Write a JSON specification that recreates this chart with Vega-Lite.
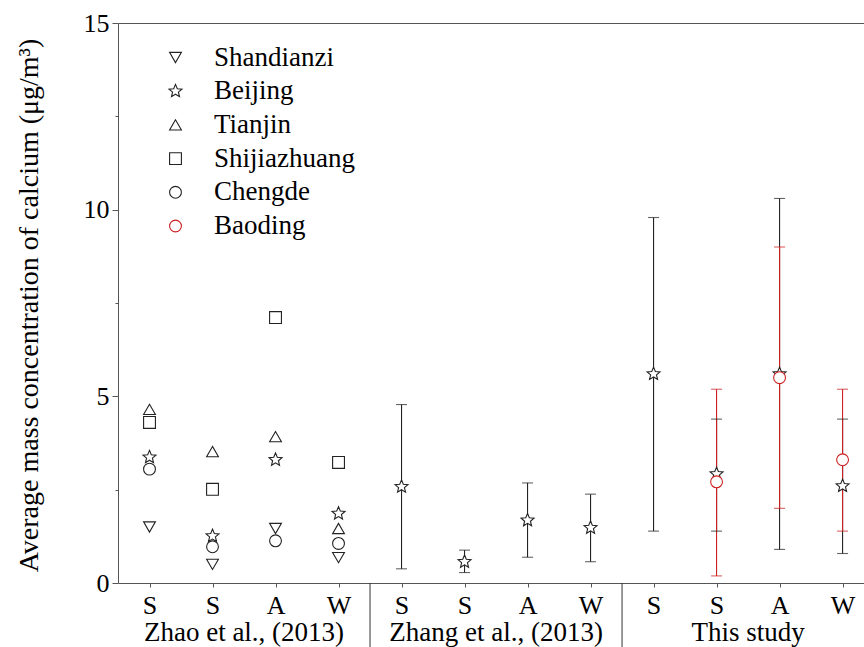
{
  "$schema": "https://vega.github.io/schema/vega-lite/v6.json",
  "width": 746,
  "height": 560,
  "autosize": {"type": "none"},
  "padding": {"left": 118, "top": 23, "right": 0, "bottom": 64},
  "background": "white",
  "config": {"view": {"stroke": null}, "font": "Liberation Serif"},
  "datasets": {
    "points": [
      {"pos": 1, "site": "Shandianzi", "value": 1.5},
      {"pos": 1, "site": "Beijing", "value": 3.37},
      {"pos": 1, "site": "Tianjin", "value": 4.65},
      {"pos": 1, "site": "Shijiazhuang", "value": 4.3},
      {"pos": 1, "site": "Chengde", "value": 3.05},
      {"pos": 2, "site": "Shandianzi", "value": 0.5},
      {"pos": 2, "site": "Beijing", "value": 1.26},
      {"pos": 2, "site": "Tianjin", "value": 3.52},
      {"pos": 2, "site": "Shijiazhuang", "value": 2.51},
      {"pos": 2, "site": "Chengde", "value": 0.97},
      {"pos": 3, "site": "Shandianzi", "value": 1.46},
      {"pos": 3, "site": "Beijing", "value": 3.3},
      {"pos": 3, "site": "Tianjin", "value": 3.92},
      {"pos": 3, "site": "Shijiazhuang", "value": 7.11},
      {"pos": 3, "site": "Chengde", "value": 1.13},
      {"pos": 4, "site": "Shandianzi", "value": 0.68},
      {"pos": 4, "site": "Beijing", "value": 1.86},
      {"pos": 4, "site": "Tianjin", "value": 1.46},
      {"pos": 4, "site": "Shijiazhuang", "value": 3.23},
      {"pos": 4, "site": "Chengde", "value": 1.06},
      {"pos": 5, "site": "Beijing", "value": 2.58},
      {"pos": 6, "site": "Beijing", "value": 0.57},
      {"pos": 7, "site": "Beijing", "value": 1.68},
      {"pos": 8, "site": "Beijing", "value": 1.48},
      {"pos": 9, "site": "Beijing", "value": 5.6},
      {"pos": 10, "site": "Beijing", "value": 2.92},
      {"pos": 11, "site": "Beijing", "value": 5.6},
      {"pos": 12, "site": "Beijing", "value": 2.6},
      {"pos": 10, "site": "Baoding", "value": 2.71},
      {"pos": 11, "site": "Baoding", "value": 5.5},
      {"pos": 12, "site": "Baoding", "value": 3.3}
    ],
    "errorbars": [
      {"pos": 5, "site": "Beijing", "low": 0.38, "high": 4.78},
      {"pos": 6, "site": "Beijing", "low": 0.28, "high": 0.88},
      {"pos": 7, "site": "Beijing", "low": 0.69, "high": 2.68},
      {"pos": 8, "site": "Beijing", "low": 0.57, "high": 2.38},
      {"pos": 9, "site": "Beijing", "low": 1.39, "high": 9.79},
      {"pos": 10, "site": "Beijing", "low": 1.39, "high": 4.39},
      {"pos": 11, "site": "Beijing", "low": 0.9, "high": 10.3},
      {"pos": 12, "site": "Beijing", "low": 0.79, "high": 4.39},
      {"pos": 10, "site": "Baoding", "low": 0.19, "high": 5.19},
      {"pos": 11, "site": "Baoding", "low": 2.0, "high": 9.0},
      {"pos": 12, "site": "Baoding", "low": 1.39, "high": 5.19}
    ],
    "groups": [
      {"group": "Zhao et al., (2013)", "center": 2.5},
      {"group": "Zhang et al., (2013)", "center": 6.5},
      {"group": "This study", "center": 10.5}
    ],
    "boundaries": [
      {"boundary": 4.5},
      {"boundary": 8.5}
    ]
  },
  "encoding": {
    "x": {
      "type": "quantitative",
      "scale": {"domain": [0.5, 12.34], "nice": false, "zero": false},
      "axis": {
        "values": [1, 2, 3, 4, 5, 6, 7, 8, 9, 10, 11, 12],
        "labelExpr": "['S','S','A','W'][(datum.value - 1) % 4]",
        "title": null,
        "tickSize": 4,
        "labelPadding": 5,
        "labelFontSize": 26,
        "labelColor": "black",
        "labelFont": "Liberation Serif",
        "labelFlush": false,
        "domainColor": "#555",
        "tickColor": "#555",
        "grid": false
      }
    },
    "y": {
      "type": "quantitative",
      "scale": {"domain": [0, 15], "nice": false, "zero": false},
      "axis": {
        "values": [0, 2.5, 5, 7.5, 10, 12.5, 15],
        "labelExpr": "datum.value % 5 === 0 ? datum.label : ''",
        "tickSize": {"condition": {"test": "datum.value % 5 === 0", "value": 6}, "value": 3},
        "grid": true,
        "gridColor": "#555",
        "gridOpacity": {"condition": {"test": "datum.value === 15", "value": 1}, "value": 0},
        "domainColor": "#555",
        "tickColor": "#555",
        "labelFontSize": 26,
        "labelColor": "black",
        "labelFont": "Liberation Serif",
        "labelPadding": 3,
        "title": "Average mass concentration of calcium (μg/m³)",
        "titleFont": "Liberation Serif",
        "titleFontSize": 28,
        "titleFontWeight": "normal",
        "titleColor": "black",
        "titleAngle": -90,
        "titleAlign": "center",
        "titleBaseline": "alphabetic",
        "titleX": -81,
        "titleY": 282
      }
    }
  },
  "layer": [
    {
      "data": {"name": "errorbars"},
      "mark": {"type": "rule", "strokeWidth": 1.1},
      "encoding": {
        "x": {"field": "pos", "type": "quantitative"},
        "y": {"field": "low", "type": "quantitative"},
        "y2": {"field": "high"},
        "color": {"field": "site", "type": "nominal", "legend": null, "scale": {"domain": ["Beijing", "Baoding"], "range": ["#222222", "#cc2020"]}}
      }
    },
    {
      "data": {"name": "errorbars"},
      "mark": {"type": "tick", "orient": "horizontal", "size": 11, "thickness": 1.1},
      "encoding": {
        "x": {"field": "pos", "type": "quantitative"},
        "y": {"field": "low", "type": "quantitative"},
        "color": {"field": "site", "type": "nominal", "legend": null}
      }
    },
    {
      "data": {"name": "errorbars"},
      "mark": {"type": "tick", "orient": "horizontal", "size": 11, "thickness": 1.1},
      "encoding": {
        "x": {"field": "pos", "type": "quantitative"},
        "y": {"field": "high", "type": "quantitative"},
        "color": {"field": "site", "type": "nominal", "legend": null}
      }
    },
    {
      "data": {"name": "points"},
      "mark": {"type": "point", "filled": true, "fill": "white", "opacity": 1, "strokeWidth": 1.1, "size": 140},
      "encoding": {
        "x": {"field": "pos", "type": "quantitative"},
        "y": {"field": "value", "type": "quantitative"},
        "shape": {
          "field": "site", "type": "nominal",
          "scale": {
            "domain": ["Shandianzi", "Beijing", "Tianjin", "Shijiazhuang", "Chengde", "Baoding"],
            "range": ["triangle-down", "M0,-1.15L0.305,-0.419L1.094,-0.355L0.492,0.16L0.676,0.93L0,0.518L-0.676,0.93L-0.492,0.16L-1.094,-0.355L-0.305,-0.419Z", "triangle-up", "square", "circle", "circle"]
          },
          "legend": {
            "orient": "none", "legendX": 44, "legendY": 21, "title": null, "padding": 0,
            "labelFont": "Liberation Serif", "labelFontSize": 27, "labelColor": "black",
            "labelOffset": 25, "rowPadding": 5.7, "symbolSize": 140, "symbolStrokeWidth": 1.1,
            "symbolFillColor": "white", "labelLimit": 400
          }
        },
        "stroke": {
          "field": "site", "type": "nominal",
          "scale": {
            "domain": ["Shandianzi", "Beijing", "Tianjin", "Shijiazhuang", "Chengde", "Baoding"],
            "range": ["#222222", "#222222", "#222222", "#222222", "#222222", "#cc2020"]
          },
          "legend": {
            "orient": "none", "legendX": 44, "legendY": 21, "title": null, "padding": 0,
            "labelFont": "Liberation Serif", "labelFontSize": 27, "labelColor": "black",
            "labelOffset": 25, "rowPadding": 5.7, "symbolSize": 140, "symbolStrokeWidth": 1.1,
            "symbolFillColor": "white", "labelLimit": 400
          }
        }
      }
    },
    {
      "data": {"name": "boundaries"},
      "mark": {"type": "rule", "stroke": "#333333", "strokeWidth": 1, "clip": false},
      "encoding": {
        "x": {"field": "boundary", "type": "quantitative"},
        "y": {"datum": 0},
        "y2": {"datum": -1.9}
      }
    },
    {
      "data": {"name": "groups"},
      "mark": {"type": "text", "font": "Liberation Serif", "fontSize": 27, "baseline": "alphabetic", "align": "center", "color": "black", "clip": false},
      "encoding": {
        "x": {"field": "center", "type": "quantitative"},
        "y": {"datum": -1.55},
        "text": {"field": "group"}
      }
    }
  ]
}
